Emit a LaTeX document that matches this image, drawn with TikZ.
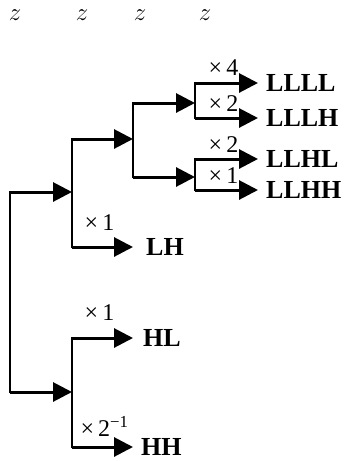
\documentclass[tikz,border=0pt]{standalone}
\usepackage{fontspec}
\setmainfont{Liberation Serif}
\usetikzlibrary{arrows.meta,positioning}

\begin{document}
\begin{tikzpicture}[x=1pt,y=-1pt,
		br/.style={line width=1.8pt,line cap=rect},
		arr/.style={line width=3pt,-{Triangle[length=19pt,width=19pt]}},
		lab/.style={font=\fontsize{26}{26}\selectfont\bfseries},
		fac/.style={font=\fontsize{24}{24}\selectfont,inner sep=0pt},
		zlab/.style={font=\fontsize{26}{26}\selectfont}]
		\useasboundingbox (0,0) rectangle (348,461);
		\foreach \n/\x/\y in {r0t/10/192,r0b/10/392,a1t/72/139,a1m/72/192,a1b/72/247,h1t/72/338,h1m/72/392,h1b/72/447,a2t/133/103,a2m/133/139,a2b/133/177,a3t/195/83,a3m/195/103,a3b/195/118,b3t/195/159,b3m/195/177,b3b/195/190,eLLLL/258/83,eLLLH/258/118,eLLHL/258/159,eLLHH/258/190,eLH/133/247,eHL/133/338,eHH/133/447} \coordinate (\n) at (\x,\y);
		\foreach \x [count=\i] in {15,82,140,205} \node[zlab] (z\i) at (\x,15) {$z$};
		\foreach \u/\v in {r0t/r0b,a1t/a1b,h1t/h1b,a2t/a2b,a3t/a3b,b3t/b3b} \draw[br] (\u) -- (\v);
		\foreach \u/\v in {r0t/a1m,r0b/h1m,a1t/a2m,a2t/a3m,a2b/b3m} \draw[arr] (\u) -- (\v);
		\foreach \u/\v/\f/\d in {a3t/eLLLL/4/6,a3b/eLLLH/2/5,b3t/eLLHL/2/5,b3b/eLLHH/1/5,a1b/eLH/1/15,h1t/eHL/1/16} \draw[arr] (\u) -- node[fac,above=\d pt,xshift=-3pt] {×\,\f} (\v);
		\draw[arr] (h1b) -- node[fac,above=9pt,xshift=2pt] {×\,2\textsuperscript{−1}} (eHH);
		\foreach \e/\t/\s in {eLLLL/LLLL/8,eLLLH/LLLH/8,eLLHL/LLHL/8,eLLHH/LLHH/8,eLH/LH/13,eHL/HL/10,eHH/HH/8} \node[lab,right=\s pt of \e,inner sep=0pt] (\t) {\t};
	\end{tikzpicture}
\end{document}
